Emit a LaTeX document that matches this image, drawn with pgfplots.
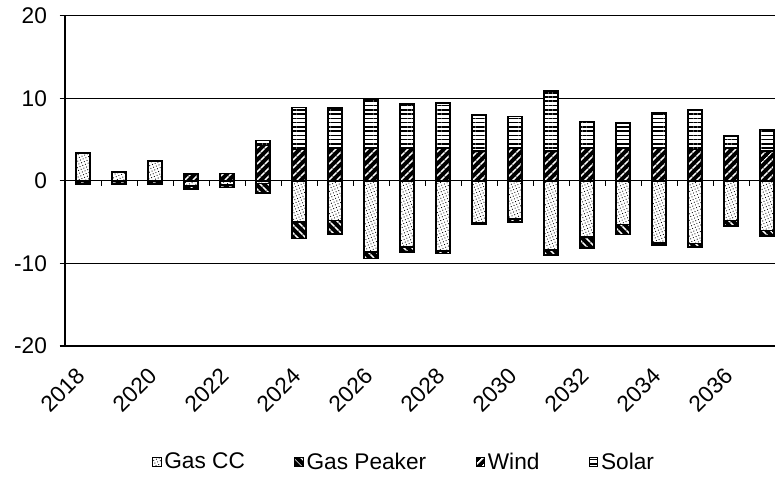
\documentclass[border=0pt]{standalone}
\usepackage{fontspec}
\setmainfont{Liberation Sans}
\usepackage{pgfplots}
\pgfplotsset{compat=1.18}
\usepackage{pgfplotstable}
\usetikzlibrary{patterns.meta}

% Positive contributions (index 0 = 2018)
\pgfplotstableread{
x  gascc peaker wind solar
0  3.4   0      0    0
1  1.1   0      0    0
2  2.4   0      0    0
3  0     0      0.8  0
4  0     0      0.9  0
5  0     0      4.3  0.6
6  0     0      3.8  5.1
7  0     0      4.0  4.8
8  0     0      4.0  5.85
9  0     0      4.0  5.3
10 0     0      4.0  5.4
11 0     0      3.6  4.4
12 0     0      4.0  3.8
13 0     0      3.6  7.3
14 0     0      4.0  3.2
15 0     0      4.0  3.0
16 0     0      4.0  4.2
17 0     0      3.8  4.8
18 0     0      4.0  1.4
19 0     0      3.6  2.6
}\postable

% Negative contributions
\pgfplotstableread{
x  gascc peaker
0  0     -0.4
1  0     -0.4
2  0     -0.4
3  -0.6  -0.4
4  -0.5  -0.3
5  -0.3  -1.2
6  -5.0  -2.0
7  -4.8  -1.6
8  -8.6  -0.8
9  -8.0  -0.6
10 -8.5  -0.3
11 -5.1  -0.2
12 -4.6  -0.4
13 -8.4  -0.6
14 -6.8  -1.3
15 -5.3  -1.2
16 -7.5  -0.25
17 -7.6  -0.4
18 -4.8  -0.7
19 -6.0  -0.7
}\negtable

\tikzset{
  gascc/.style={draw=black, line width=1.2pt, fill=white,
    postaction={pattern color=black, pattern={Dots[distance=2.2pt, angle=23, radius=0.45pt]}}},
  peaker/.style={draw=black, line width=1.2pt, fill=black,
    postaction={pattern color=white, pattern={Lines[angle=-45, distance=4pt, line width=1.2pt]}}},
  wind/.style={draw=black, line width=1.2pt, fill=black,
    postaction={pattern color=white, pattern={Lines[angle=45, distance=4pt, line width=1.3pt]}}},
  solar/.style={draw=black, line width=1.2pt, fill=white,
    postaction={pattern color=black, pattern={Lines[angle=0, distance=3.2pt, line width=1.2pt]}}},
}

\pgfplotsset{
  common/.style={
    at={(48.75pt,101.25pt)}, anchor=south west,
    scale only axis, width=540pt, height=247.7pt,
    xmin=-0.5, xmax=19.5, ymin=-20, ymax=20,
    ybar stacked, bar width=10.5pt,
  },
}

\begin{document}
\begin{tikzpicture}
\begin{axis}[common,
  axis y line=left, axis x line=bottom, axis line style={-, black, line width=0.8pt},
  ytick={-20,-10,0,10,20}, yticklabels={-20,-10,0,10,20},
  xtick={0,2,...,18},
  xticklabels={2018,2020,2022,2024,2026,2028,2030,2032,2034,2036},
  xtick style={draw=none},
  ytick style={black, line width=0.8pt},
  tick align=outside, major tick length=4pt,
  ymajorgrids, grid style={black, line width=0.7pt},
  tick label style={font=\fontsize{17}{20}\selectfont},
  yticklabel style={xshift=-6pt},
  xticklabel style={xshift=1pt, yshift=-13pt, rotate=45, anchor=east},
  legend columns=4,
  legend style={draw=none, fill=none, at={(0.115,-0.351)}, anchor=west,
    font=\fontsize{17}{20}\selectfont,
    /tikz/every even column/.append style={column sep=35pt}},
  legend image code/.code={\draw[#1, line width=0.7pt] (0pt,-3.5pt) rectangle (6.5pt,3.5pt);},
]
\addplot[gascc]  table[x=x, y=gascc]  {\postable};
\addplot[peaker] table[x=x, y=peaker] {\postable};
\addplot[wind]   table[x=x, y=wind]   {\postable};
\addplot[solar]  table[x=x, y=solar]  {\postable};
\legend{Gas CC, Gas Peaker, Wind, Solar}
\end{axis}

\begin{axis}[common, hide axis]
\addplot[gascc]  table[x=x, y=gascc]  {\negtable};
\addplot[peaker] table[x=x, y=peaker] {\negtable};
\draw[black, line width=0.8pt] (axis cs:-0.5,0) -- (axis cs:19.5,0);
\pgfplotsinvokeforeach{0.5,1.5,...,18.5}{
  \draw[black, line width=0.7pt] (axis cs:#1,0) -- ++(0pt,-4pt);
}
\end{axis}

\pgfresetboundingbox
\useasboundingbox (0,0) rectangle (581.25pt,360.75pt);
\end{tikzpicture}
\end{document}
